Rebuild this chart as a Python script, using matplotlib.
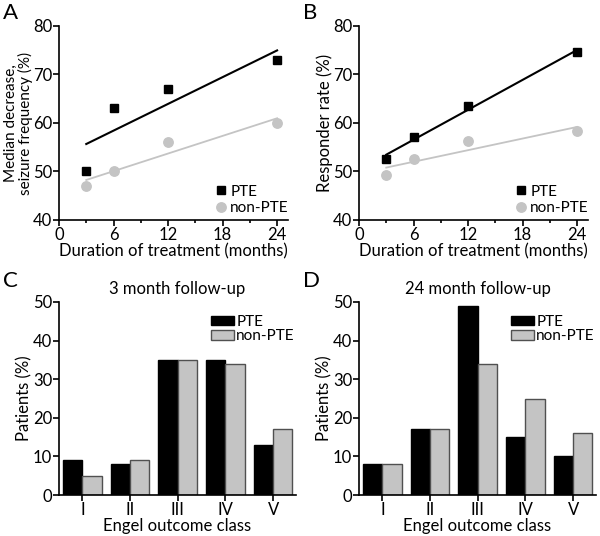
import numpy as np
import matplotlib
matplotlib.use("Agg")
import matplotlib.pyplot as plt

plt.rcParams['font.family'] = ['Lato', 'DejaVu Sans']
plt.rcParams['font.size'] = 12
plt.rcParams['xtick.labelsize'] = 12
plt.rcParams['ytick.labelsize'] = 12

# data
months = [3, 6, 12, 24]
median_pte = [50, 63, 67, 73]
median_non = [47, 50, 56, 60]
resp_pte = [52.5, 57.1, 63.6, 74.6]
resp_non = [49.3, 52.5, 56.3, 58.3]

classes = ['I', 'II', 'III', 'IV', 'V']
fu3_pte = [9, 8, 35, 35, 13]
fu3_non = [5, 9, 35, 34, 17]
fu24_pte = [8, 17, 49, 15, 10]
fu24_non = [8, 17, 34, 25, 16]

GRAY = '#c4c4c4'
W, H = 600, 536

fig = plt.figure(figsize=(6, 5.36), dpi=100)


def box(left, top, right, bottom):
    return [left / W, 1 - bottom / H, (right - left) / W, (bottom - top) / H]


def style(ax):
    for s in ['top', 'right']:
        ax.spines[s].set_visible(False)
    ax.spines['left'].set_linewidth(1.2)
    ax.spines['bottom'].set_linewidth(1.2)
    ax.tick_params(direction='out', width=1.2, length=4, pad=1)


def scatter_panel(ax, pte, non, ylabel, ysize=12):
    style(ax)
    x = np.array(months)
    xx = np.array([3, 24])
    p1 = np.polyfit(x, pte, 1)
    p2 = np.polyfit(x, non, 1)
    ax.plot(xx, np.polyval(p2, xx), color=GRAY, lw=1.3, zorder=1)
    ax.plot(xx, np.polyval(p1, xx), color='black', lw=1.5, zorder=1)
    ax.plot(x, pte, 's', color='black', ms=5.8, label='PTE', zorder=3)
    ax.plot(x, non, 'o', color=GRAY, ms=6.8, label='non-PTE', zorder=3)
    ax.set_xlim(0, 25.2)
    ax.set_ylim(40, 80)
    ax.set_xticks([0, 6, 12, 18, 24])
    ax.set_xticks([3, 9, 15, 21], minor=True)
    ax.tick_params(axis='x', which='minor', length=2.5, width=1.2)
    ax.set_yticks([40, 50, 60, 70, 80])
    ax.set_xlabel('Duration of treatment (months)', labelpad=0)
    ax.set_ylabel(ylabel, labelpad=0, linespacing=0.95, fontsize=ysize)
    ax.legend(loc='lower right', bbox_to_anchor=(1.05, -0.03), frameon=False,
              fontsize=11, handletextpad=0.2, labelspacing=0.15,
              handlelength=0.8, borderaxespad=0.3)


def bar_panel(ax, pte, non, title):
    style(ax)
    x = np.arange(1, len(classes) + 1)
    bw = 0.405
    ax.bar(x - bw / 2, pte, bw, color='black', edgecolor='black', lw=1,
           label='PTE')
    ax.bar(x + bw / 2, non, bw, color=GRAY, edgecolor='#505050', lw=1,
           label='non-PTE')
    ax.set_xlim(0.51, 5.48)
    ax.set_ylim(0, 50)
    ax.set_xticks(x)
    ax.set_xticklabels(classes)
    ax.set_yticks([0, 10, 20, 30, 40, 50])
    ax.set_xlabel('Engel outcome class', labelpad=0)
    ax.set_ylabel('Patients (%)', labelpad=0)
    ax.set_title(title, fontsize=12, pad=6)
    ax.legend(loc='upper right', bbox_to_anchor=(1.04, 0.99), frameon=False,
              fontsize=11, handletextpad=0.15, labelspacing=0.05,
              handlelength=1.5, handleheight=0.55, borderaxespad=0.3)


axA = fig.add_axes(box(59, 26, 288, 220))
scatter_panel(axA, median_pte, median_non,
              'Median decrease,\nseizure frequency (%)', ysize=11)
axB = fig.add_axes(box(359, 26, 588, 220))
scatter_panel(axB, resp_pte, resp_non, 'Responder rate (%)')
axC = fig.add_axes(box(59, 302, 296, 495))
bar_panel(axC, fu3_pte, fu3_non, '3 month follow-up')
axD = fig.add_axes(box(359, 302, 596, 495))
bar_panel(axD, fu24_pte, fu24_non, '24 month follow-up')

for lab, px, py in [('A', 3, 3), ('B', 303, 3), ('C', 3, 271), ('D', 303, 271)]:
    fig.text(px / W, 1 - py / H, lab, fontsize=16, va='top', ha='left')

fig.savefig('out.png', dpi=100)
